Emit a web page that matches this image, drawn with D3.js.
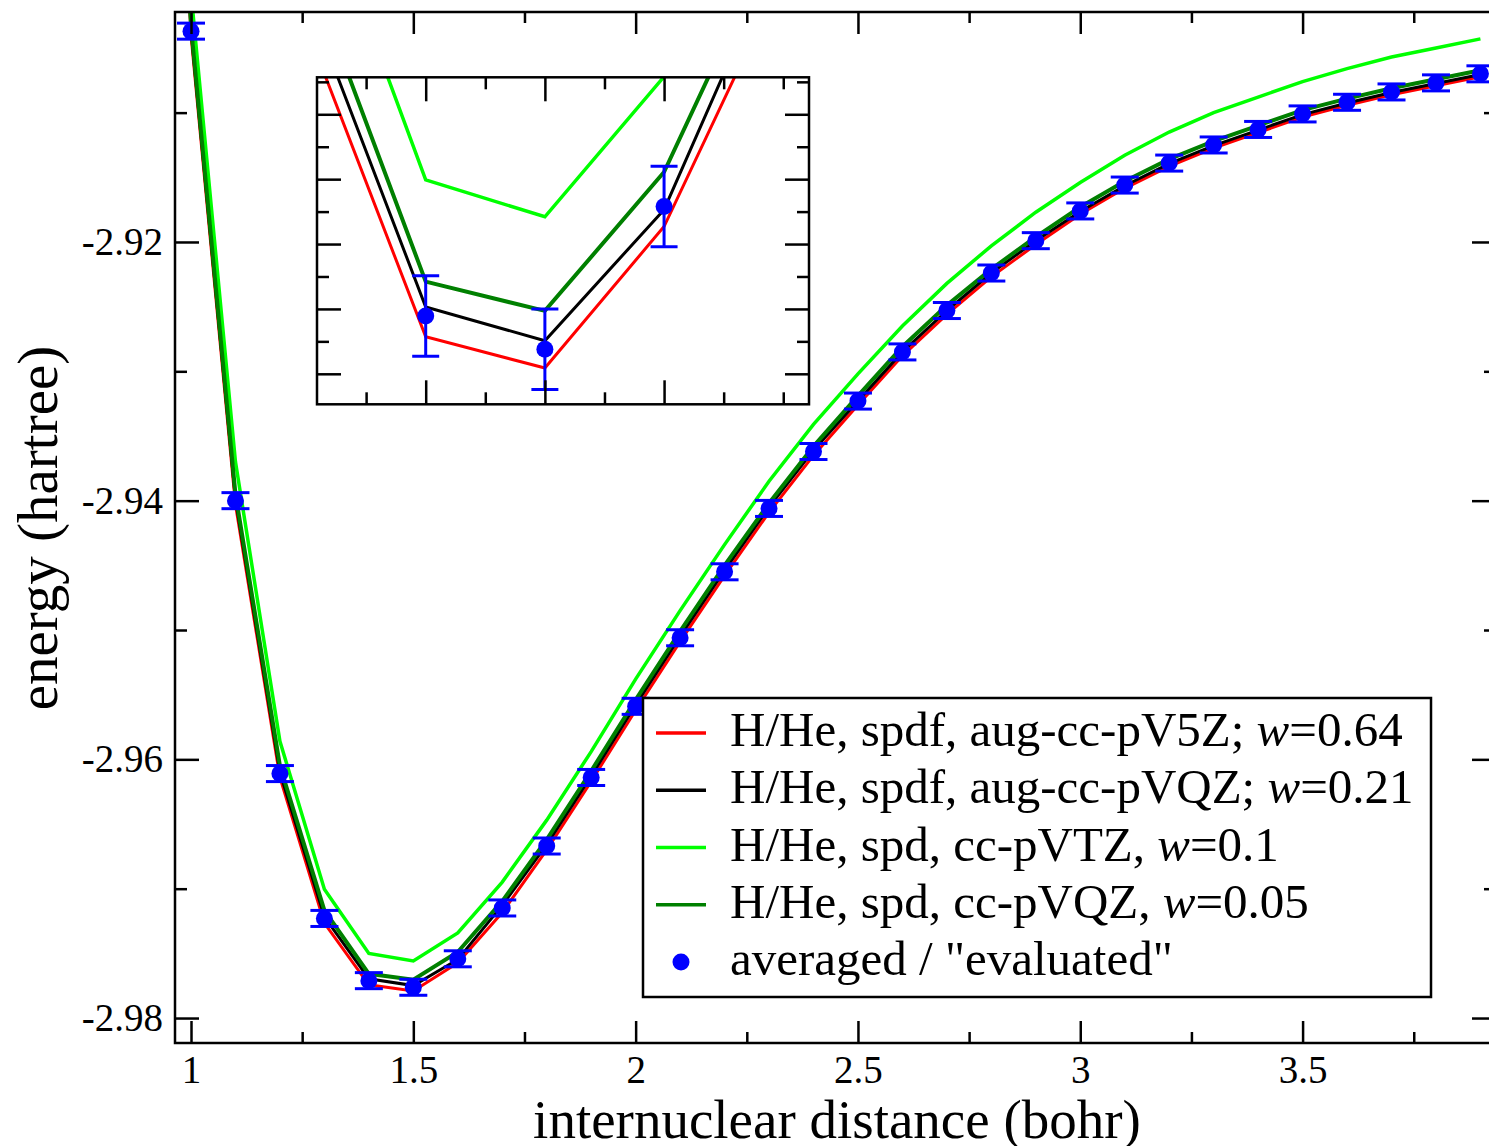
<!DOCTYPE html>
<html><head><meta charset="utf-8">
<script src="https://cdn.jsdelivr.net/npm/d3@7"></script>
<style>
body{margin:0;background:#fff}
svg{display:block}
text{font-family:"Liberation Serif","Times New Roman",serif;fill:#000}
</style>
</head><body>
<svg id="c" width="1489" height="1146"></svg>
<script>
// ---- data (internuclear distance in bohr, energy in hartree) ----
const distances = [1.0,1.1,1.2,1.3,1.4,1.5,1.6,1.7,1.8,1.9,2.0,2.1,2.2,2.3,2.4,2.5,2.6,2.7,2.8,2.9,3.0,3.1,3.2,3.3,3.4,3.5,3.6,3.7,3.8,3.9];
const averaged = [-2.9037,-2.9400,-2.9611,-2.9723,-2.97711,-2.97762,-2.97542,-2.97149,-2.9667,-2.9614,-2.9559,-2.9506,-2.9455,-2.9406,-2.9362,-2.9323,-2.9285,-2.9253,-2.9224,-2.9199,-2.9176,-2.9156,-2.9139,-2.9125,-2.9113,-2.9101,-2.9092,-2.9084,-2.9077,-2.9070];
const averagedErr = [0.00062,0.00062,0.00062,0.00062,0.00062,0.00062,0.00062,0.00062,0.00062,0.00062,0.00062,0.00062,0.00062,0.00062,0.00062,0.00062,0.00062,0.00062,0.00062,0.00062,0.00062,0.00062,0.00062,0.00062,0.00062,0.00062,0.00062,0.00062,0.00062,0.00062];

const lineDistances = [0.9,1.0,1.1,1.2,1.3,1.4,1.5,1.6,1.7,1.8,1.9,2.0,2.1,2.2,2.3,2.4,2.5,2.6,2.7,2.8,2.9,3.0,3.1,3.2,3.3,3.4,3.5,3.6,3.7,3.8,3.9];
const spdfAugV5Z = [-2.8330,-2.9040,-2.9403,-2.9614,-2.97266,-2.97743,-2.97791,-2.97573,-2.97184,-2.9670,-2.9617,-2.9562,-2.9509,-2.9458,-2.9409,-2.9365,-2.9326,-2.9288,-2.9256,-2.9227,-2.9202,-2.91785,-2.91585,-2.91415,-2.91275,-2.91155,-2.91035,-2.90943,-2.90862,-2.90792,-2.90722];
const spdfAugVQZ = [-2.8328,-2.9036,-2.9399,-2.9610,-2.97217,-2.97697,-2.97749,-2.97547,-2.97129,-2.9666,-2.9613,-2.9558,-2.9505,-2.9454,-2.9405,-2.9361,-2.9323,-2.9285,-2.9253,-2.9224,-2.9199,-2.91765,-2.91565,-2.91395,-2.91255,-2.91135,-2.91015,-2.90925,-2.90845,-2.90775,-2.90705];
const spdVTZ = [-2.8290,-2.9007,-2.9370,-2.9586,-2.97004,-2.97501,-2.97558,-2.97342,-2.96949,-2.9647,-2.9594,-2.9538,-2.9485,-2.9434,-2.9385,-2.9341,-2.9302,-2.9265,-2.9232,-2.9203,-2.9177,-2.9154,-2.9133,-2.9115,-2.9100,-2.9088,-2.9076,-2.9066,-2.9057,-2.9050,-2.9043];
const spdVQZ = [-2.8325,-2.9033,-2.9395,-2.9605,-2.97167,-2.97658,-2.97703,-2.97489,-2.97096,-2.9662,-2.9609,-2.9554,-2.9501,-2.9450,-2.9402,-2.9358,-2.9319,-2.9281,-2.9249,-2.9221,-2.9196,-2.9173,-2.9153,-2.9136,-2.9122,-2.9110,-2.9098,-2.90892,-2.90812,-2.90742,-2.90672];

const seriesNames = ["H/He, spdf, aug-cc-pV5Z; ", "H/He, spdf, aug-cc-pVQZ; ", "H/He, spd, cc-pVTZ, ", "H/He, spd, cc-pVQZ, "];
const seriesWeights = ["0.64", "0.21", "0.1", "0.05"];
const pointLabel = "averaged / \"evaluated\"";
const xMajorTicks = [1, 1.5, 2, 2.5, 3, 3.5];
const xMinorTicks = [1.25, 1.75, 2.25, 2.75, 3.25, 3.75];
const yMajorTicks = [-2.98, -2.96, -2.94, -2.92];
const yMinorTicks = [-2.97, -2.95, -2.93, -2.91];
const insetXMajor = [1.4, 1.5, 1.6];
const insetXMinor = [1.35, 1.45, 1.55, 1.65, 1.7];
const insetYMajor = [-2.978, -2.977, -2.976, -2.975, -2.974];
const insetYMinor = [-2.9775, -2.9765, -2.9755, -2.9745, -2.9735];
const xTitle = "internuclear distance (bohr)";
const yTitle = "energy (hartree)";

// ---- styles ----
const seriesList = [
  {vals: spdfAugV5Z, color: "#ff0000", w: 3},
  {vals: spdfAugVQZ, color: "#000000", w: 3},
  {vals: spdVTZ, color: "#00ff00", w: 3.5},
  {vals: spdVQZ, color: "#008000", w: 4}
];
const ptColor = "#0000ff";

const svg = d3.select("#c");
const P = {l: 175, r: 1496, t: 12, b: 1043};
const x = d3.scaleLinear().domain([0.964, 3.935]).range([P.l, P.r]);
const y = d3.scaleLinear().domain([-2.98193, -2.90222]).range([P.b, P.t]);

svg.append("defs").append("clipPath").attr("id", "mainclip")
  .append("rect").attr("x", P.l).attr("y", P.t).attr("width", P.r - P.l).attr("height", P.b - P.t);

function drawPlot(g, xs, ys, clipId, errCap, r) {
  const gl = g.append("g").attr("clip-path", `url(#${clipId})`);
  seriesList.forEach(s => {
    const line = d3.line().x((d, i) => xs(lineDistances[i])).y(d => ys(d));
    gl.append("path").datum(s.vals).attr("d", line)
      .attr("fill", "none").attr("stroke", s.color).attr("stroke-width", s.w)
      .attr("stroke-linejoin", "miter");
  });
  const pts = distances.map((d, i) => ({x: d, y: averaged[i], e: averagedErr[i]}));
  const pg = gl.append("g");
  pts.forEach(p => {
    const cx = xs(p.x), y1 = ys(p.y + p.e), y0 = ys(p.y - p.e);
    pg.append("line").attr("x1", cx).attr("x2", cx).attr("y1", y1).attr("y2", y0)
      .attr("stroke", ptColor).attr("stroke-width", 3);
    [y1, y0].forEach(yy => pg.append("line").attr("x1", cx - errCap).attr("x2", cx + errCap)
      .attr("y1", yy).attr("y2", yy).attr("stroke", ptColor).attr("stroke-width", 3));
    pg.append("circle").attr("cx", cx).attr("cy", ys(p.y)).attr("r", r).attr("fill", ptColor);
  });
}

function ticks(g, axisFn, scale, vals, size, pos, labels, fmt, pad, fs) {
  const a = axisFn(scale).tickValues(vals).tickSize(-size).tickPadding(pad)
    .tickFormat(labels ? fmt : () => "");
  const ag = g.append("g").attr("transform", pos).call(a);
  ag.select(".domain").remove();
  ag.selectAll("line").attr("stroke", "#000").attr("stroke-width", 2.5);
  ag.selectAll("text").attr("font-size", fs).attr("font-family", "Liberation Serif, serif").attr("fill", "#000");
  return ag;
}

// main plot
drawPlot(svg, x, y, "mainclip", 14, 8.5);
const fy = d => d.toFixed(2);
ticks(svg, d3.axisBottom, x, xMajorTicks, 22, `translate(0,${P.b})`, true, d => String(d), 12, 39);
ticks(svg, d3.axisBottom, x, xMinorTicks, 11, `translate(0,${P.b})`, false, null, 0, 40);
ticks(svg, d3.axisTop, x, xMajorTicks, 22, `translate(0,${P.t})`, false, null, 0, 40);
ticks(svg, d3.axisTop, x, xMinorTicks, 11, `translate(0,${P.t})`, false, null, 0, 40);
ticks(svg, d3.axisLeft, y, yMajorTicks, 24, `translate(${P.l},0)`, true, fy, 12, 39);
ticks(svg, d3.axisLeft, y, yMinorTicks, 12, `translate(${P.l},0)`, false, null, 0, 40);
ticks(svg, d3.axisRight, y, yMajorTicks, 24, `translate(${P.r},0)`, false, null, 0, 40);
ticks(svg, d3.axisRight, y, yMinorTicks, 12, `translate(${P.r},0)`, false, null, 0, 40);
svg.append("rect").attr("x", P.l).attr("y", P.t).attr("width", P.r - P.l).attr("height", P.b - P.t)
  .attr("fill", "none").attr("stroke", "#000").attr("stroke-width", 2.5);

svg.append("text").attr("x", 837).attr("y", 1138).attr("text-anchor", "middle")
  .attr("font-size", 55).text(xTitle);
svg.append("text").attr("transform", "translate(57,528) rotate(-90)").attr("text-anchor", "middle")
  .attr("font-size", 57).text(yTitle);

// inset
const I = {l: 317, r: 809, t: 77.3, b: 404.3};
const ix = d3.scaleLinear().domain([1.3088, 1.7216]).range([I.l, I.r]);
const iy = d3.scaleLinear().domain([-2.97847, -2.97343]).range([I.b, I.t]);
svg.select("defs").append("clipPath").attr("id", "insetclip")
  .append("rect").attr("x", I.l).attr("y", I.t).attr("width", I.r - I.l).attr("height", I.b - I.t);
const ig = svg.append("g");
ig.append("rect").attr("x", I.l).attr("y", I.t).attr("width", I.r - I.l).attr("height", I.b - I.t).attr("fill", "#fff");
drawPlot(ig, ix, iy, "insetclip", 13.5, 8.5);
ticks(ig, d3.axisBottom, ix, insetXMajor, 24, `translate(0,${I.b})`, false, null, 0, 40);
ticks(ig, d3.axisBottom, ix, insetXMinor, 12, `translate(0,${I.b})`, false, null, 0, 40);
ticks(ig, d3.axisTop, ix, insetXMajor, 24, `translate(0,${I.t})`, false, null, 0, 40);
ticks(ig, d3.axisTop, ix, insetXMinor, 12, `translate(0,${I.t})`, false, null, 0, 40);
ticks(ig, d3.axisLeft, iy, insetYMajor, 24, `translate(${I.l},0)`, false, null, 0, 40);
ticks(ig, d3.axisLeft, iy, insetYMinor, 12, `translate(${I.l},0)`, false, null, 0, 40);
ticks(ig, d3.axisRight, iy, insetYMajor, 24, `translate(${I.r},0)`, false, null, 0, 40);
ticks(ig, d3.axisRight, iy, insetYMinor, 12, `translate(${I.r},0)`, false, null, 0, 40);
ig.append("rect").attr("x", I.l).attr("y", I.t).attr("width", I.r - I.l).attr("height", I.b - I.t)
  .attr("fill", "none").attr("stroke", "#000").attr("stroke-width", 2.5);

// legend
const L = {x: 643, y: 698, w: 788, h: 299};
const lg = svg.append("g");
lg.append("rect").attr("x", L.x).attr("y", L.y).attr("width", L.w).attr("height", L.h)
  .attr("fill", "#fff").attr("stroke", "#000").attr("stroke-width", 2.5);
const rowY = d3.scaleLinear().domain([0, 4]).range([733, 962]);
seriesList.forEach((s, i) => {
  lg.append("line").attr("x1", 656).attr("x2", 706).attr("y1", rowY(i)).attr("y2", rowY(i))
    .attr("stroke", s.color).attr("stroke-width", 3.5);
  const t = lg.append("text").attr("x", 730).attr("y", rowY(i) + 13).attr("font-size", 49);
  t.append("tspan").text(seriesNames[i]);
  t.append("tspan").attr("font-style", "italic").text("w");
  t.append("tspan").text("=" + seriesWeights[i]);
});
lg.append("circle").attr("cx", 681).attr("cy", rowY(4)).attr("r", 8.5).attr("fill", ptColor);
lg.append("text").attr("x", 730).attr("y", rowY(4) + 13).attr("font-size", 49).text(pointLabel);
</script>
</body></html>
